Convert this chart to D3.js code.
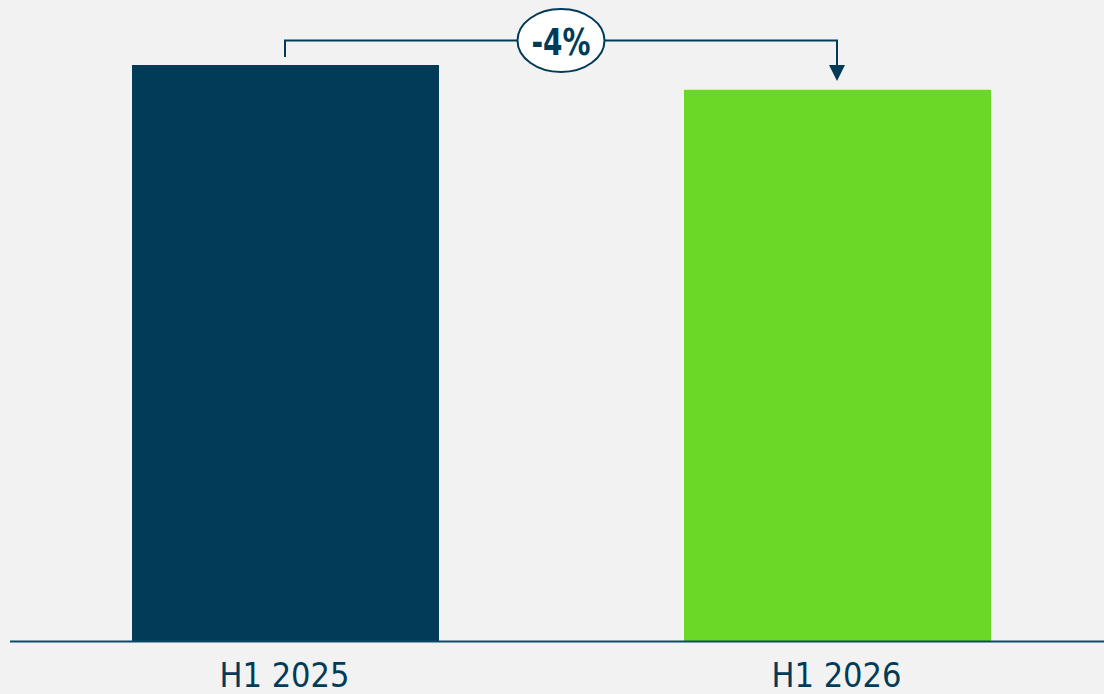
<!DOCTYPE html>
<html><head><meta charset="utf-8">
<script src="https://cdn.jsdelivr.net/npm/d3@7"></script>
<style>html,body{margin:0;padding:0;background:#f2f2f2;}svg{display:block;}</style>
</head><body>
<svg id="chart" width="1104" height="694"></svg>
<script>
const categories = ["H1 2025", "H1 2026"];
const values = [100, 95.7];
const colors = ["#023b58", "#6ad826"];
const changeLabel = "-4%";

const W = 1104, H = 694;
const svg = d3.select("#chart");
svg.append("rect").attr("width", W).attr("height", H).attr("fill", "#f2f2f2");

const x = d3.scaleBand().domain(categories).range([132, 991]).paddingInner(245 / 552).paddingOuter(0);
const y = d3.scaleLinear().domain([0, 100]).range([641, 65]);
const dark = "#023b58";

svg.selectAll("rect.bar").data(categories).enter().append("rect")
  .attr("class", "bar")
  .attr("x", d => x(d))
  .attr("width", x.bandwidth())
  .attr("y", (d, i) => y(values[i]))
  .attr("height", (d, i) => y(0) - y(values[i]))
  .attr("fill", (d, i) => colors[i]);

// baseline
svg.append("line").attr("x1", 10).attr("x2", 1104).attr("y1", 641.5).attr("y2", 641.5)
  .attr("stroke", "#0b4a68").attr("stroke-width", 2);

// labels
svg.selectAll("text.cat").data(categories).enter().append("text")
  .attr("class", "cat")
  .attr("x", d => x(d) + x.bandwidth() / 2 - 1)
  .attr("y", 687)
  .attr("text-anchor", "middle")
  .attr("font-family", "'DejaVu Sans Condensed', 'DejaVu Sans', sans-serif")
  .attr("font-size", 34)
  .attr("fill", dark)
  .text(d => d);

// change annotation
const cx1 = x(categories[0]) + x.bandwidth() / 2 - 0.5;
const cx2 = x(categories[1]) + x.bandwidth() / 2 - 0.5;
const lineY = 40.5;
const arrowTip = 81;
svg.append("path")
  .attr("d", `M${cx1},${y(values[0]) - 8} V${lineY} H${cx2} V${arrowTip - 15}`)
  .attr("fill", "none").attr("stroke", dark).attr("stroke-width", 2);
svg.append("path")
  .attr("d", `M${cx2 - 8},${arrowTip - 16} L${cx2 + 8},${arrowTip - 16} L${cx2},${arrowTip} Z`)
  .attr("fill", dark);

const ex = 561;
svg.append("ellipse").attr("cx", ex).attr("cy", 40.5).attr("rx", 43.5).attr("ry", 31.5)
  .attr("fill", "#ffffff").attr("stroke", dark).attr("stroke-width", 2);
svg.append("text").attr("x", ex).attr("y", 55)
  .attr("text-anchor", "middle")
  .attr("font-family", "'DejaVu Sans Condensed', 'DejaVu Sans', sans-serif")
  .attr("font-weight", "bold")
  .attr("font-size", 37)
  .attr("textLength", 59)
  .attr("lengthAdjust", "spacingAndGlyphs")
  .attr("fill", dark)
  .text(changeLabel);
</script>
</body></html>
